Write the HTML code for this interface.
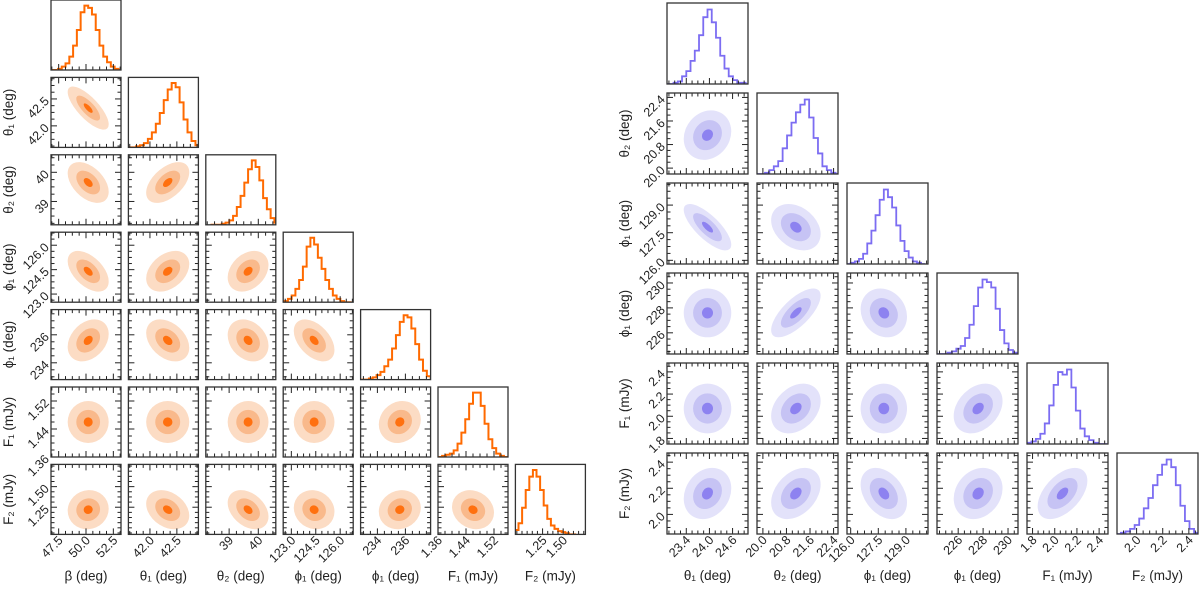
<!DOCTYPE html>
<html><head><meta charset="utf-8">
<style>
html,body{margin:0;padding:0;background:#fff;}
svg{display:block;font-family:"Liberation Sans","DejaVu Sans",sans-serif;}
</style></head>
<body>
<svg id="fig" width="1200" height="591" viewBox="0 0 1200 591" xmlns="http://www.w3.org/2000/svg"></svg>
<script>
// ---------- LEFT corner plot data ----------
const leftLabels = ["β (deg)","θ₁ (deg)","θ₂ (deg)","ϕ₁ (deg)","ϕ₁ (deg)","F₁ (mJy)","F₂ (mJy)"];
const leftRanges = [[46.8,53.2],[41.6,42.9],[38.2,40.6],[122.5,126.8],[232.8,237.8],[1.36,1.56],[0.92,1.77]];
const leftTicks = [[47.5,50.0,52.5],[42.0,42.5],[39,40],[123.0,124.5,126.0],[234,236],[1.36,1.44,1.52],[1.25,1.50]];
const leftTickText = [["47.5","50.0","52.5"],["42.0","42.5"],["39","40"],["123.0","124.5","126.0"],["234","236"],["1.36","1.44","1.52"],["1.25","1.50"]];
const leftCenters = [50.2,42.33,39.65,124.4,235.6,1.46,1.22];
const leftSigmas = [0.75,0.16,0.28,0.5,0.6,0.024,0.095];
const leftCorr = [[],[-0.75],[-0.45,0.5],[-0.5,0.35,0.3],[0.3,-0.35,-0.25,-0.45],[0,0,0,0,0.12],[0.05,-0.3,-0.35,-0.1,0.1,-0.15]];
const leftHist = [
 [0,0,1,3,6,12,22,36,52,58,56,50,36,22,12,7,3,1,0,0],
 [0,0,1,2,4,8,14,22,32,44,54,60,56,42,26,14,6,2,1,0],
 [0,0,0,1,2,4,8,16,26,38,50,58,52,40,24,14,6,2,0,0],
 [0,0,1,3,6,12,20,32,50,58,52,40,30,20,12,6,3,1,0,0],
 [0,0,1,2,4,7,12,18,28,40,52,58,56,46,32,18,8,3,1,0],
 [0,0,1,2,3,6,12,22,34,48,58,58,46,30,16,8,3,1,0,0],
 [0,0,1,4,10,24,40,52,58,52,40,26,14,8,5,3,2,1,0,0]
];
// ---------- RIGHT corner plot data ----------
const rightLabels = ["θ₁ (deg)","θ₂ (deg)","ϕ₁ (deg)","ϕ₁ (deg)","F₁ (mJy)","F₂ (mJy)"];
const rightRanges = [[22.9,25.0],[19.8,22.55],[125.8,130.2],[224.3,230.8],[1.75,2.48],[1.85,2.47]];
const rightTicks = [[23.4,24.0,24.6],[20.0,20.8,21.6,22.4],[126.0,127.5,129.0],[226,228,230],[1.8,2.0,2.2,2.4],[2.0,2.2,2.4]];
const rightTickText = [["23.4","24.0","24.6"],["20.0","20.8","21.6","22.4"],["126.0","127.5","129.0"],["226","228","230"],["1.8","2.0","2.2","2.4"],["2.0","2.2","2.4"]];
const rightCenters = [23.95,21.12,127.8,227.6,2.07,2.16];
const rightSigmas = [0.22,0.3,0.45,0.7,0.08,0.07];
const rightCorr = [[],[0.15],[-0.75,-0.3],[0.0,0.7,-0.15],[0.0,0.3,0.0,0.3],[0.2,0.35,-0.35,0.2,0.5]];
const rightHist = [
 [0,0,1,2,6,10,18,26,38,52,58,48,36,22,12,6,3,1,1,0],
 [0,0,0,1,3,6,10,20,30,40,48,54,58,44,28,16,6,3,1,0],
 [0,0,1,2,4,8,16,26,38,50,58,52,44,30,18,10,5,2,1,0],
 [0,0,0,1,2,4,6,12,22,36,50,56,54,50,34,18,8,3,1,0],
 [0,0,1,2,4,8,16,30,46,56,54,58,44,26,12,6,3,1,0,0],
 [0,0,1,2,4,7,12,20,28,38,46,54,58,52,38,22,10,4,1,0]
];

const NS="http://www.w3.org/2000/svg";
const fig=document.getElementById('fig');
function mk(tag,attrs,parent){const e=document.createElementNS(NS,tag);for(const k in attrs)e.setAttribute(k,attrs[k]);(parent||fig).appendChild(e);return e;}

function drawCorner(cfg){
  const {labels,ranges,ticks,tickText,centers,sigmas,corr,hist,x0,y0,pitch,size,fills,line,lw,prefix,histSpan,radii}=cfg;
  const n=labels.length;
  const g=mk('g',{});
  
  
  const sx=(j,v)=>x0+j*pitch+(v-ranges[j][0])/(ranges[j][1]-ranges[j][0])*size;
  const sy=(i,v)=>y0+i*pitch+size-(v-ranges[i][0])/(ranges[i][1]-ranges[i][0])*size;
  for(let i=0;i<n;i++){
    for(let j=0;j<=i;j++){
      const px=x0+j*pitch, py=y0+i*pitch;
      const pg=mk('g',{},g);
      
      
      const cid=prefix+'clip'+i+'_'+j;
      const cp=mk('clipPath',{id:cid},pg);mk('rect',{x:px,y:py,width:size,height:size},cp);
      const inner=mk('g',{'clip-path':'url(#'+cid+')'},pg);
      if(i===j){
        const h=hist[i];const nb=h.length;const mx=Math.max(...h);
        const lo=centers[i]-histSpan*sigmas[i], hi=centers[i]+histSpan*sigmas[i];
        let d='';
        for(let b=0;b<nb;b++){
          const xa=sx(j,lo+(hi-lo)*b/nb), xb=sx(j,lo+(hi-lo)*(b+1)/nb);
          const yy=py+size-(h[b]/mx)*size*0.92;
          d+=(b===0?'M'+xa+' '+(py+size)+' L'+xa+' '+yy:' L'+xa+' '+yy)+' L'+xb+' '+yy;
        }
        d+=' L'+sx(j,hi)+' '+(py+size);
        const p=mk('path',{d:d,fill:'none',stroke:line,'stroke-width':lw,'stroke-linejoin':'miter'},inner);
        
        
      } else {
        const cx=sx(j,centers[j]), cy=sy(i,centers[i]);
        const ax=sigmas[j]/(ranges[j][1]-ranges[j][0])*size;
        const ay=sigmas[i]/(ranges[i][1]-ranges[i][0])*size;
        const r=corr[i][j];
        const b=r*ay, c=ay*Math.sqrt(1-r*r);
        radii.forEach((rr,k)=>{
          const e=mk('circle',{cx:0,cy:0,r:rr,fill:fills[k],transform:'matrix('+ax+','+(-b)+',0,'+(-c)+','+cx+','+cy+')'},inner);
          
          
        });
      }
      const tg=mk('g',{stroke:'#222','stroke-width':1},pg);
      const xt=ticks[j];const step=(xt.length>1?xt[1]-xt[0]:1);
      const minor=step/4;
      for(let v=Math.ceil(ranges[j][0]/minor)*minor; v<=ranges[j][1]+1e-9; v+=minor){
        const X=sx(j,v);const isMaj=xt.some(t=>Math.abs(t-v)<minor*0.1);const L=isMaj?6:3.5;
        mk('line',{x1:X,y1:py+size,x2:X,y2:py+size-L},tg);
        if(i!==j) mk('line',{x1:X,y1:py,x2:X,y2:py+L},tg);
      }
      if(i!==j){
        const yt=ticks[i];const ystep=(yt.length>1?yt[1]-yt[0]:1);const ym=ystep/4;
        for(let v=Math.ceil(ranges[i][0]/ym)*ym; v<=ranges[i][1]+1e-9; v+=ym){
          const Y=sy(i,v);const isMaj=yt.some(t=>Math.abs(t-v)<ym*0.1);const L=isMaj?6:3.5;
          mk('line',{x1:px,y1:Y,x2:px+L,y2:Y},tg);
          mk('line',{x1:px+size,y1:Y,x2:px+size-L,y2:Y},tg);
        }
      }
      const fr=mk('rect',{x:px,y:py,width:size,height:size,fill:'none',stroke:'#333','stroke-width':1.3},pg);
      
      
      if(j===0 && i>0){
        ticks[i].forEach((t,k)=>{
          const Y=sy(i,t);
          const tx=mk('text',{x:px-4,y:Y+4,'font-size':12.5,fill:'#222','text-anchor':'end',transform:'rotate(-45 '+(px-4)+' '+Y+')'},pg);
          tx.textContent=tickText[i][k];
          
          
        });
        const lx=px-38, ly=py+size/2;
        const yl=mk('text',{x:lx,y:ly,'font-size':13.5,fill:'#222','text-anchor':'middle',transform:'rotate(-90 '+lx+' '+ly+')'},pg);
        yl.textContent=labels[i];
        
        
      }
      if(i===n-1){
        ticks[j].forEach((t,k)=>{
          const X=sx(j,t), Y=py+size+6;
          const tx=mk('text',{x:X+3,y:Y+4,'font-size':12.5,fill:'#222','text-anchor':'end',transform:'rotate(-45 '+X+' '+Y+')'},pg);
          tx.textContent=tickText[j][k];
          
          
        });
        const xl=mk('text',{x:px+size/2,y:py+size+46,'font-size':13.5,fill:'#222','text-anchor':'middle'},pg);
        xl.textContent=labels[j];
        
        
      }
    }
  }
}
drawCorner({labels:leftLabels,ranges:leftRanges,ticks:leftTicks,tickText:leftTickText,centers:leftCenters,sigmas:leftSigmas,corr:leftCorr,hist:leftHist,
  x0:51,y0:0,pitch:77.4,size:70,fills:['#fcdcc4','#f9b98b','#ff700f'],line:'#ff6a00',lw:2,prefix:'left',histSpan:4.6,radii:[2.5,1.45,0.55]});
drawCorner({labels:rightLabels,ranges:rightRanges,ticks:rightTicks,tickText:rightTickText,centers:rightCenters,sigmas:rightSigmas,corr:rightCorr,hist:rightHist,
  x0:667,y0:3,pitch:90,size:81,fills:['#e3e2fa','#c6c3f4','#8d82f0'],line:'#7c6df2',lw:1.8,prefix:'right',histSpan:5.0,radii:[2.8,1.7,0.65]});
</script>
</body></html>
